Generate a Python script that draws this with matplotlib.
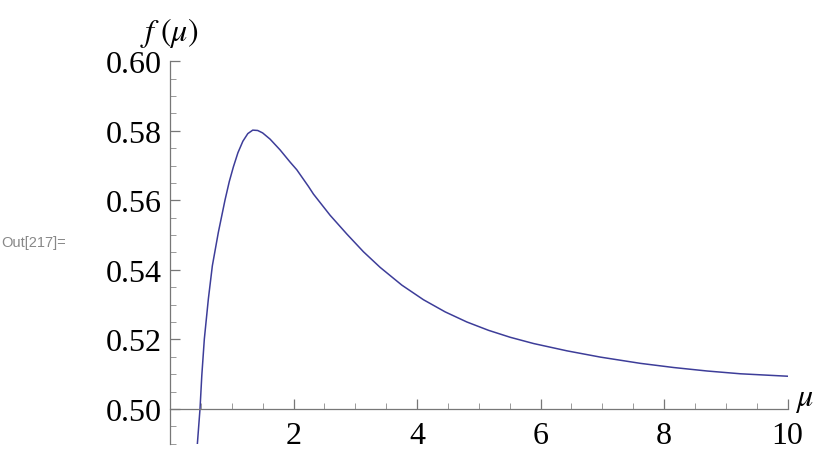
import matplotlib
matplotlib.use("Agg")
import matplotlib.pyplot as plt
from matplotlib.ticker import MultipleLocator

# curve
mu = [0.443, 0.486, 0.515, 0.556, 0.621, 0.686, 0.783, 0.891, 0.960, 1.026,
      1.100, 1.180, 1.260, 1.340, 1.420, 1.500, 1.621, 1.783, 1.945, 2.053,
      2.242, 2.323, 2.593, 2.864, 3.133, 3.404, 3.755, 4.105, 4.457, 4.808,
      5.159, 5.510, 5.889, 6.429, 6.969, 7.618, 8.158, 8.699, 9.238, 10.0]
f = [0.4899, 0.5000, 0.5096, 0.5201, 0.5316, 0.5412, 0.5508, 0.5601, 0.5654, 0.5696,
     0.5737, 0.5770, 0.5792, 0.5802, 0.5801, 0.5794, 0.5776, 0.5745, 0.5710, 0.5688,
     0.5640, 0.5618, 0.5557, 0.5503, 0.5452, 0.5407, 0.5356, 0.5314, 0.5279, 0.5250,
     0.5226, 0.5206, 0.5188, 0.5167, 0.5149, 0.5131, 0.5119, 0.5109, 0.5101, 0.5094]

xticks = [2, 4, 6, 8, 10]
yticks = [0.50, 0.52, 0.54, 0.56, 0.58, 0.60]

plt.rcParams['mathtext.fontset'] = 'stix'
serif = 'Liberation Serif'

fig = plt.figure(figsize=(8.3, 4.64), dpi=100)
ax = fig.add_axes([170 / 830, 1 - 445 / 464, 617.5 / 830, (445 - 62.3) / 464])

ax.plot(mu, f, color='#3d3d99', lw=1.1, solid_joinstyle='round')

ax.set_xlim(0, 10)
ax.set_ylim(0.4899, 0.60)

ax.spines['top'].set_visible(False)
ax.spines['right'].set_visible(False)
ax.spines['bottom'].set_position(('data', 0.5))
ax.spines['left'].set_position(('data', 0))
for s in ['bottom', 'left']:
    ax.spines[s].set_color('#777777')
    ax.spines[s].set_linewidth(0.9)

ax.set_xticks(xticks)
ax.set_xticklabels([str(t) for t in xticks])
ax.set_yticks(yticks)
ax.set_yticklabels(['%.2f' % t for t in yticks])
ax.xaxis.set_minor_locator(MultipleLocator(0.5))
ax.yaxis.set_minor_locator(MultipleLocator(0.005))

ax.tick_params(axis='both', which='major', direction='in', length=7, width=0.9,
               color='#777777', labelsize=23)
ax.tick_params(axis='both', which='minor', direction='in', length=4.5, width=0.7,
               color='#999999')
ax.tick_params(axis='x', which='major', pad=9)
ax.tick_params(axis='y', which='major', pad=6)
for lab in ax.get_xticklabels() + ax.get_yticklabels():
    lab.set_fontfamily(serif)

fig.text(169 / 830, 1 - 33 / 464, r'$f\;(\mu)$', fontsize=23, ha='center', va='center')
fig.text(804 / 830, 1 - 400 / 464, r'$\mu$', fontsize=23, ha='center', va='center')
fig.text(0.002, 1 - 243 / 464, 'Out[217]=', fontsize=10.5, color='#888888',
         family='Liberation Sans', ha='left', va='center')

fig.savefig('out.png', dpi=100)
